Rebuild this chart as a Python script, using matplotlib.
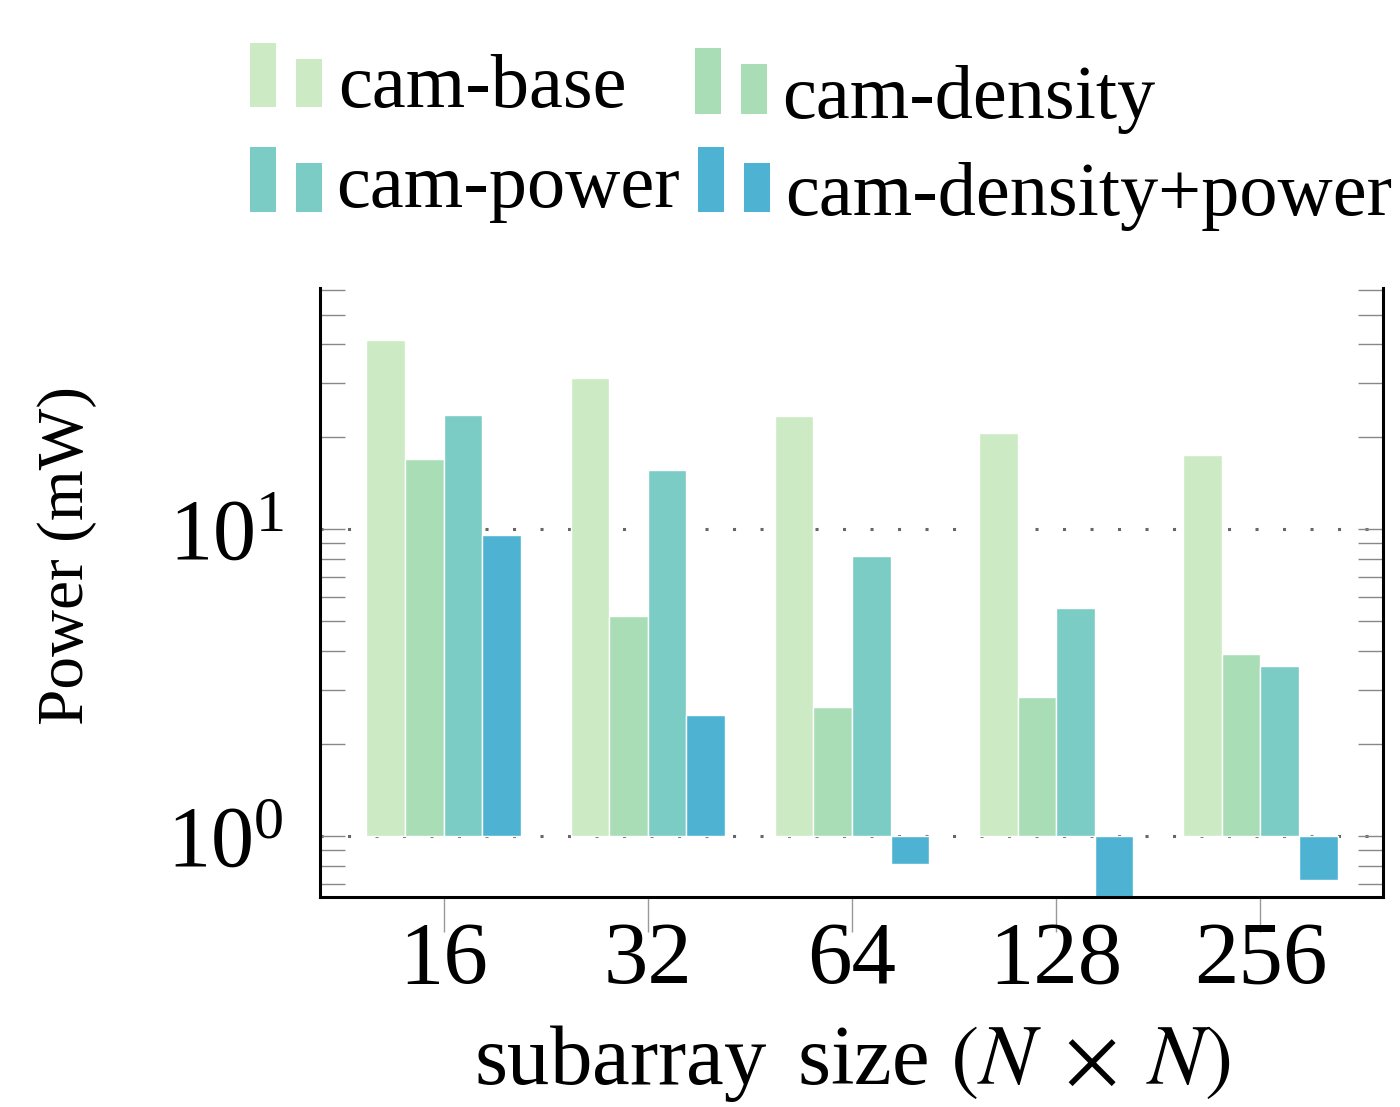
import matplotlib
matplotlib.use("Agg")
import matplotlib.pyplot as plt
import numpy as np
from matplotlib.patches import Rectangle
from matplotlib.ticker import LogLocator, NullFormatter

plt.rcParams['font.family'] = ['Liberation Serif', 'DejaVu Serif']
plt.rcParams['mathtext.fontset'] = 'stix'

categories = ["16", "32", "64", "128", "256"]
series_names = ["cam-base", "cam-density", "cam-power", "cam-density+power"]
cam_base = [41.3, 31.0, 23.3, 20.5, 17.4]
cam_density = [16.9, 5.2, 2.63, 2.84, 3.92]
cam_power = [23.5, 15.6, 8.17, 5.53, 3.58]
cam_density_power = [9.6, 2.48, 0.81, 0.62, 0.72]
colors = ["#ccebc5", "#a8ddb5", "#7bccc4", "#4eb3d3"]

W, H = 1400, 1107
fig = plt.figure(figsize=(W / 100, H / 100), dpi=100)
ax = fig.add_axes([320 / W, 1 - 897 / H, (1383 - 320) / W, (897 - 288) / H])

x = np.arange(len(categories))
width = 0.189
all_series = [cam_base, cam_density, cam_power, cam_density_power]
for i, (vals, c) in enumerate(zip(all_series, colors)):
    v = np.array(vals)
    ax.bar(x + (i - 1.5) * width, v - 1.0, width=width, bottom=1.0, color=c,
           edgecolor="white", linewidth=1.0, zorder=2)

ax.set_yscale("log")
ax.set_ylim(0.633, 61)
ax.set_xlim(-0.605, 4.6)

ax.yaxis.set_major_locator(LogLocator(base=10, numticks=10))
ax.yaxis.set_minor_locator(LogLocator(base=10, subs=np.arange(2, 10), numticks=20))
ax.yaxis.set_minor_formatter(NullFormatter())
ax.grid(True, axis="y", which="major", linestyle=(0, (1, 8)), color="#666666",
        linewidth=2.2, zorder=1)

ax.set_xticks(x)
ax.set_xticklabels(categories)
ax.tick_params(axis="x", direction="out", length=25, width=1.0, color="#999999",
               labelsize=64, pad=-8)
ax.tick_params(axis="y", which="both", direction="in", length=18, width=1.0,
               color="#888888", left=True, right=True, labelsize=62, pad=26)

for side in ["left", "bottom", "right"]:
    ax.spines[side].set_linewidth(2.2)
    ax.spines[side].set_color("black")
ax.spines["top"].set_visible(False)

ax.set_ylabel("Power (mW)", fontsize=47)
ax.yaxis.set_label_coords(-(320 - 97) / (1383 - 320), 0.56)
ax.set_xlabel(r"subarray $\,$size $(N\;\times\;N)$", fontsize=61)
ax.xaxis.set_label_coords((852 - 320) / (1383 - 320), -(1084 - 897) / (897 - 288))
ax.xaxis.label.set_va("baseline")

# legend, drawn in figure pixel coordinates
def px(xp, yp):
    return xp / W, 1 - yp / H

legend_items = [
    (series_names[0], colors[0], 250, 43, 107, 338, 107),
    (series_names[1], colors[1], 695, 48, 114, 782, 118),
    (series_names[2], colors[2], 250, 147, 212, 336, 207),
    (series_names[3], colors[3], 698, 147, 212, 785, 215),
]
for name, c, x0, ytop, ybot, tx, ty in legend_items:
    h1 = ybot - ytop
    h2 = ybot - (ytop + 16)
    for dx, hh in ((0, h1), (46, h2)):
        fx, fy = px(x0 + dx, ybot)
        fig.add_artist(Rectangle((fx, fy), 26 / W, hh / H, transform=fig.transFigure,
                                 facecolor=c, edgecolor="none"))
    fx, fy = px(tx, ty)
    fig.text(fx, fy, name, fontsize=55, ha="left", va="baseline")

fig.savefig("out.png", dpi=100)
